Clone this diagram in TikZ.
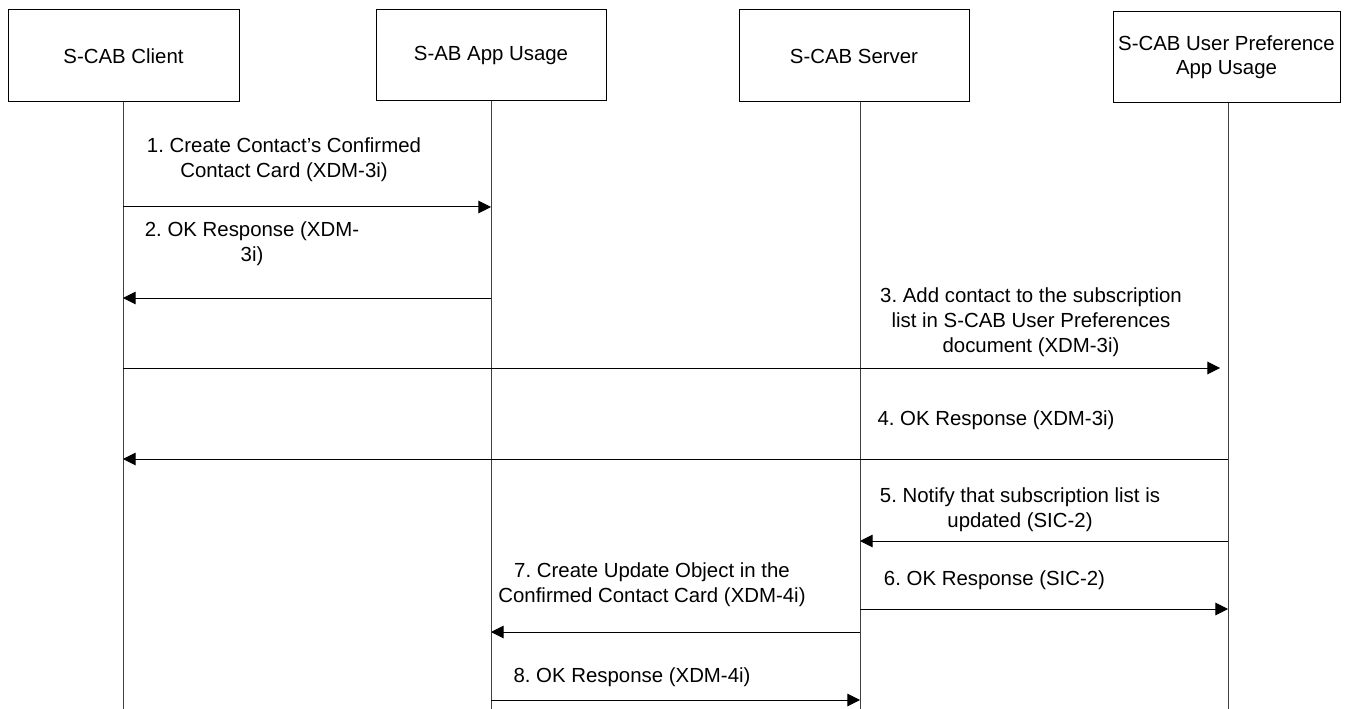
\documentclass[tikz,border=0pt]{standalone}
\usepackage{fontspec}
\setmainfont{Liberation Sans}
\usetikzlibrary{arrows.meta}
\begin{document}
\frenchspacing
\begin{tikzpicture}[x=0.75pt,y=-0.75pt,
  actor/.style={draw=black, line width=0.75pt, align=center, inner sep=0pt, font=\fontsize{15.3}{18.3}\selectfont\frenchspacing},
  life/.style={draw=black!75, line width=0.75pt},
  msg/.style={draw=black, line width=0.75pt, -{Triangle[length=9.5pt,width=9.5pt]}},
  lbl/.style={align=center, inner sep=0pt, font=\fontsize{15.3}{18.8}\selectfont\frenchspacing}]
\useasboundingbox (0,0) rectangle (1345,709);
\fill[white] (0,0) rectangle (1345,709);

% actors
\node[actor, minimum width=173.25pt, minimum height=69pt] (client) at (123.5,56) {S-CAB Client};
\node[actor, minimum width=172.5pt, minimum height=68.25pt] (sab) at (491,55.5) {S-AB App Usage\strut};
\node[actor, minimum width=172.5pt, minimum height=69pt] (server) at (854,56) {S-CAB Server};
\node[actor, minimum width=170.25pt, minimum height=68.25pt] (pref) at (1226.5,57.5) {S-CAB User Preference\\App Usage};

% lifelines
\coordinate (cl) at (123,102);  \coordinate (clb) at (123,709);
\coordinate (sl) at (491,101);  \coordinate (slb) at (491,709);
\coordinate (vl) at (860,102);  \coordinate (vlb) at (860,709);
\coordinate (pl) at (1228,103); \coordinate (plb) at (1228,709);
\draw[life] (cl) -- (clb);
\draw[life] (sl) -- (slb);
\draw[life] (vl) -- (vlb);
\draw[life] (pl) -- (plb);

% message levels
\coordinate (m1) at (0,207);
\coordinate (m2) at (0,298);
\coordinate (m3) at (0,368);
\coordinate (m4) at (0,459);
\coordinate (m5) at (0,541);
\coordinate (m6) at (0,609);
\coordinate (m7) at (0,632);
\coordinate (m8) at (0,700);

% messages
\draw[msg] (cl |- m1) -- (sl |- m1);
\draw[msg] (sl |- m2) -- (cl |- m2);
\draw[msg, shorten >=6pt] (cl |- m3) -- (pl |- m3);
\draw[msg] (pl |- m4) -- (cl |- m4);
\draw[msg] (pl |- m5) -- (vl |- m5);
\draw[msg] (vl |- m6) -- (pl |- m6);
\draw[msg] (vl |- m7) -- (sl |- m7);
\draw[msg] (sl |- m8) -- (vl |- m8);

% labels
\node[lbl] (t1) at (284,160) {1. Create Contact’s Confirmed\\Contact Card (XDM-3i)};
\node[lbl] (t2) at (252,243.5) {2. OK Response (XDM-\\3i)};
\node[lbl] (t3) at (1031,322.5) {3. Add contact to the subscription\\list in S-CAB User Preferences\\document (XDM-3i)};
\node[lbl] (t4) at (996,420) {4. OK Response (XDM-3i)};
\node[lbl] (t5) at (1020,510) {5. Notify that subscription list is\\updated (SIC-2)};
\node[lbl] (t6) at (994.5,580) {6. OK Response (SIC-2)};
\node[lbl] (t7) at (652,585) {7. Create Update Object in the\\Confirmed Contact Card (XDM-4i)};
\node[lbl] (t8) at (632,677) {8. OK Response (XDM-4i)};
\end{tikzpicture}
\end{document}
